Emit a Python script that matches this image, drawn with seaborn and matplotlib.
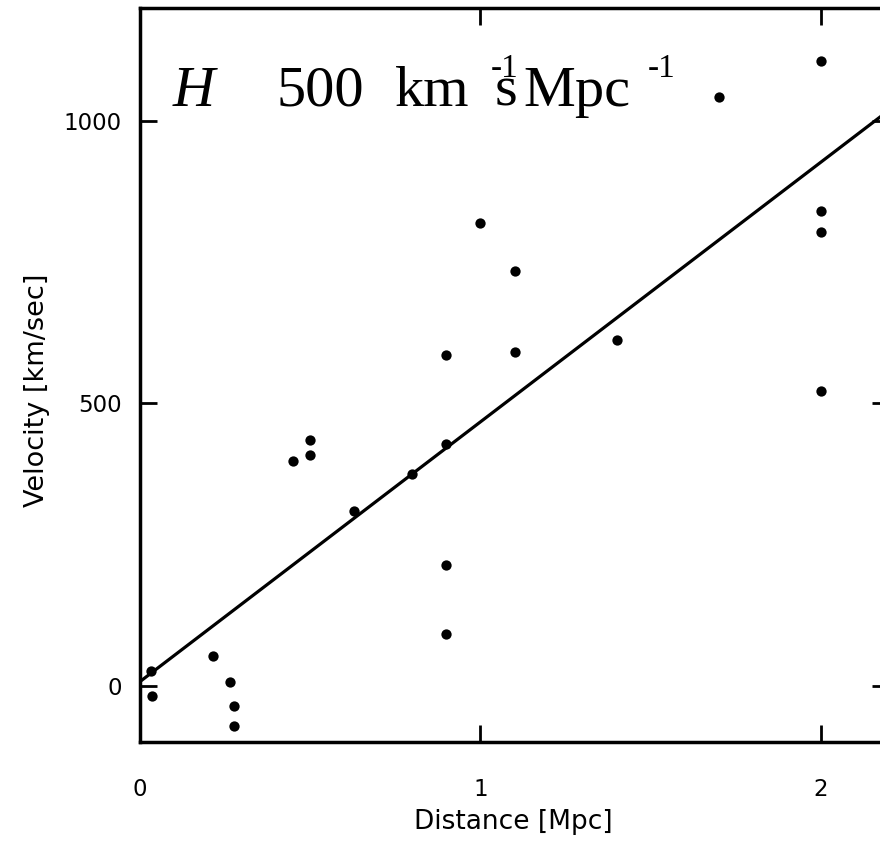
import matplotlib
matplotlib.use("Agg")
import matplotlib.pyplot as plt
import seaborn as sns
import pandas as pd

# ---- data ----
distance_mpc = [0.032, 0.034, 0.214, 0.263, 0.275, 0.275, 0.45, 0.50, 0.50,
                0.63, 0.80, 0.90, 0.90, 0.90, 0.90, 1.00, 1.10, 1.10, 1.40,
                1.70, 2.00, 2.00, 2.00, 2.00]
velocity_kms = [26, -19, 52, 6, -36, -72, 398, 435, 408,
                309, 375, 586, 427, 214, 91, 819, 734, 591, 612,
                1043, 1106, 840, 804, 521]
fit_x = [0.0, 2.2]
fit_y = [7, 1019]

x_ticks = [0, 1, 2]
y_ticks = [0, 500, 1000]

sns.set_theme(style="ticks")
plt.rcParams["font.family"] = ["DejaVu Sans"]

W, H = 880, 844
fig = plt.figure(figsize=(W / 100, H / 100), dpi=100)
ax = fig.add_axes([140 / W, (H - 742) / H, (889 - 140) / W, (742 - 8) / H])

df = pd.DataFrame({"Distance": distance_mpc, "Velocity": velocity_kms})
sns.lineplot(x=fit_x, y=fit_y, color="black", linewidth=2.3, ax=ax)
sns.scatterplot(data=df, x="Distance", y="Velocity", color="black", s=55,
                linewidth=0, ax=ax, zorder=3)

ax.set_xlim(0, 2.2)
ax.set_ylim(-100, 1200)
ax.set_xticks(x_ticks)
ax.set_yticks(y_ticks)
ax.set_xticklabels([str(t) for t in x_ticks])
ax.set_yticklabels([str(t) for t in y_ticks])

for sp in ax.spines.values():
    sp.set_linewidth(2.5)
    sp.set_color("black")
    sp.set_visible(True)

ax.tick_params(axis="both", direction="in", length=12, width=2.0,
               top=True, right=True, colors="black", labelsize=16.5)
ax.tick_params(axis="x", pad=26)
ax.tick_params(axis="y", pad=13)

ax.set_xlabel("Distance [Mpc]", fontsize=19, color="black")
ax.set_ylabel("Velocity [km/sec]", fontsize=19.5, color="black")
ax.xaxis.set_label_coords((513 - 140) / 749, (742 - 809) / 734)
ax.yaxis.set_label_coords((50 - 140) / 749, (742 - 390) / 734)


def ptext(px, py, s, **kw):
    fig.text(px / W, 1 - py / H, s, va="baseline", ha="left",
             family="Liberation Serif", color="black", **kw)


ptext(173, 106, "H", fontsize=42, style="italic")
ptext(276, 106, "500", fontsize=42)
ptext(395, 106, "km", fontsize=42)
ptext(495, 106, "s", fontsize=42)
ptext(491, 77, "-1", fontsize=24)
ptext(523, 106, "Mpc", fontsize=42)
ptext(648, 77, "-1", fontsize=24)

fig.savefig("out.png", dpi=100, facecolor="white")
